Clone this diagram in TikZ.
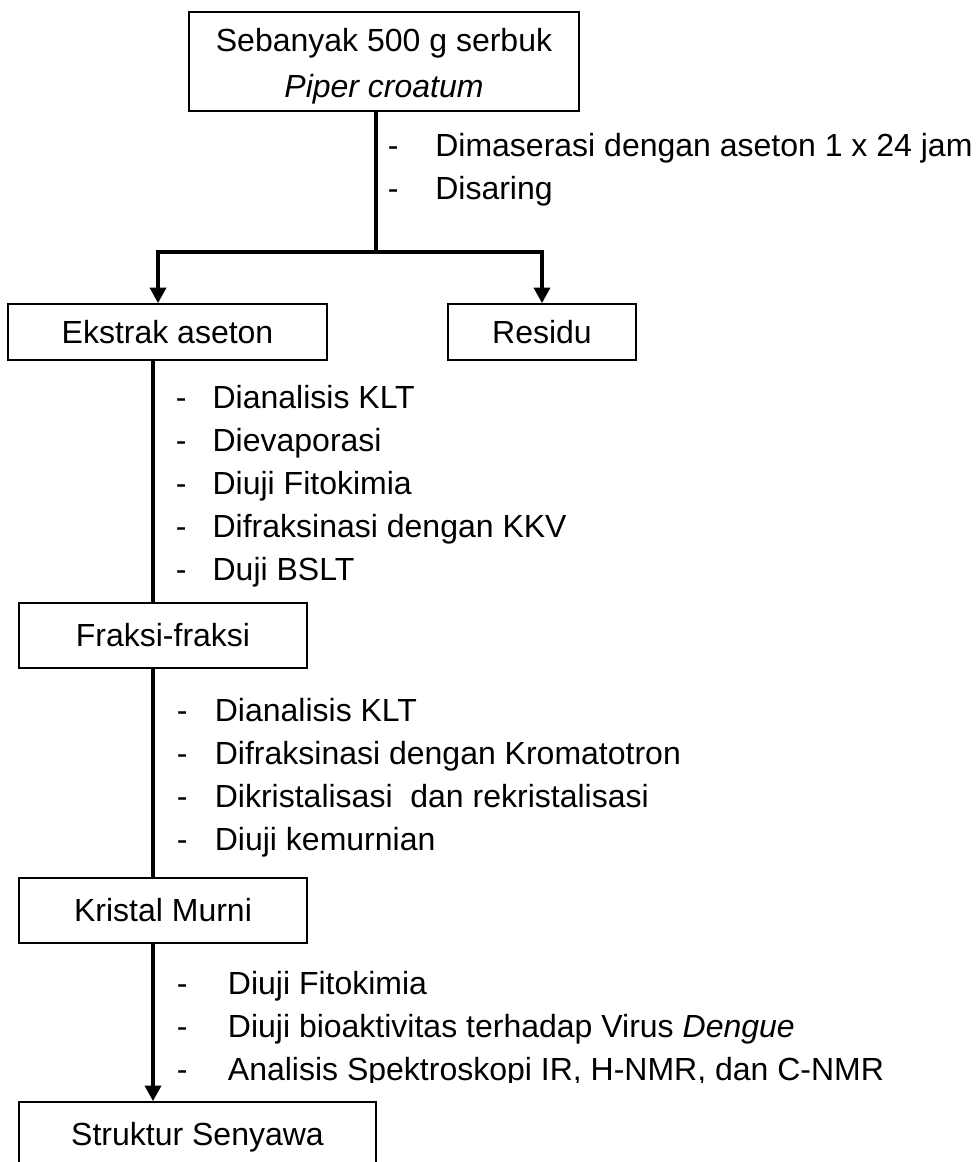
\documentclass[tikz,border=0pt]{standalone}
\usepackage{fontspec}
\setmainfont{Liberation Sans}
\usepackage{tikz}
\usetikzlibrary{positioning,arrows.meta}

\tikzset{
  box/.style={draw, line width=1.4pt, inner sep=0pt, align=center, font=\fontsize{24}{34.5}\selectfont},
  steps/.style={anchor=north west, inner sep=0pt, font=\fontsize{24}{32.25}\selectfont},
  conn/.style={line width=2.4pt},
}

\begin{document}
\begin{tikzpicture}[x=0.75pt, y=-0.75pt, >={Triangle[length=11.5pt,width=12pt]}]
\useasboundingbox (0,0) rectangle (979,1162);

% boxes
\node[box, minimum width=292.5pt, minimum height=74.25pt] (top) at (384,61.5) {\rule{0pt}{25pt}Sebanyak 500 g serbuk\\\textit{Piper croatum}};
\node[box, minimum width=239.25pt, minimum height=42pt] (ekstrak) at (167.5,332) {Ekstrak aseton};
\node[box, minimum width=141pt, minimum height=42pt] (residu) at (542,332) {Residu};
\node[box, minimum width=216pt, minimum height=48.75pt] (fraksi) at (163,635.5) {Fraksi-fraksi};
\node[box, minimum width=216pt, minimum height=48.75pt] (kristal) at (163,910.5) {Kristal Murni};
\node[box, minimum width=267.75pt, minimum height=48pt, text depth=0pt] (struktur) at (197.5,1134) {Struktur Senyawa};

% steps
\node[steps] (L1) at (387.6,126.2) {\begin{tabular}{@{}p{35.6pt}@{}l@{}}
- & Dimaserasi dengan aseton 1 x 24 jam\\
- & Disaring
\end{tabular}};
\node[steps] (L2) at (175.6,378.2) {\begin{tabular}{@{}p{27.6pt}@{}l@{}}
- & Dianalisis KLT\\
- & Dievaporasi\\
- & Diuji Fitokimia\\
- & Difraksinasi dengan KKV\\
- & Duji BSLT
\end{tabular}};
\node[steps] (L3) at (176.6,691.2) {\begin{tabular}{@{}p{28.5pt}@{}l@{}}
- & Dianalisis KLT\\
- & Difraksinasi dengan Kromatotron\\
- & Dikristalisasi\ \ dan rekristalisasi\\
- & Diuji kemurnian
\end{tabular}};
\begin{scope}
\clip (0,950) rectangle (979,1082);
\node[steps] (L4) at (176.6,964.2) {\begin{tabular}{@{}p{38.3pt}@{}l@{}}
- & Diuji Fitokimia\\
- & Diuji bioaktivitas terhadap Virus \textit{Dengue}\\
- & Analisis Spektroskopi IR, H-NMR, dan C-NMR
\end{tabular}};
\end{scope}

% connectors
\coordinate (split) at (376,252);
\coordinate (trunk) at (153,0);
\draw[conn] (top.south -| split) -- (split);
\draw[conn,->] (split) -| ([xshift=-7.1pt]ekstrak.north);
\draw[conn,->] (split) -| (residu.north);
\draw[conn] (ekstrak.south -| trunk) -- (fraksi.north -| trunk);
\draw[conn] (fraksi.south -| trunk) -- (kristal.north -| trunk);
\draw[conn,->] (kristal.south -| trunk) -- (struktur.north -| trunk);
\end{tikzpicture}
\end{document}
